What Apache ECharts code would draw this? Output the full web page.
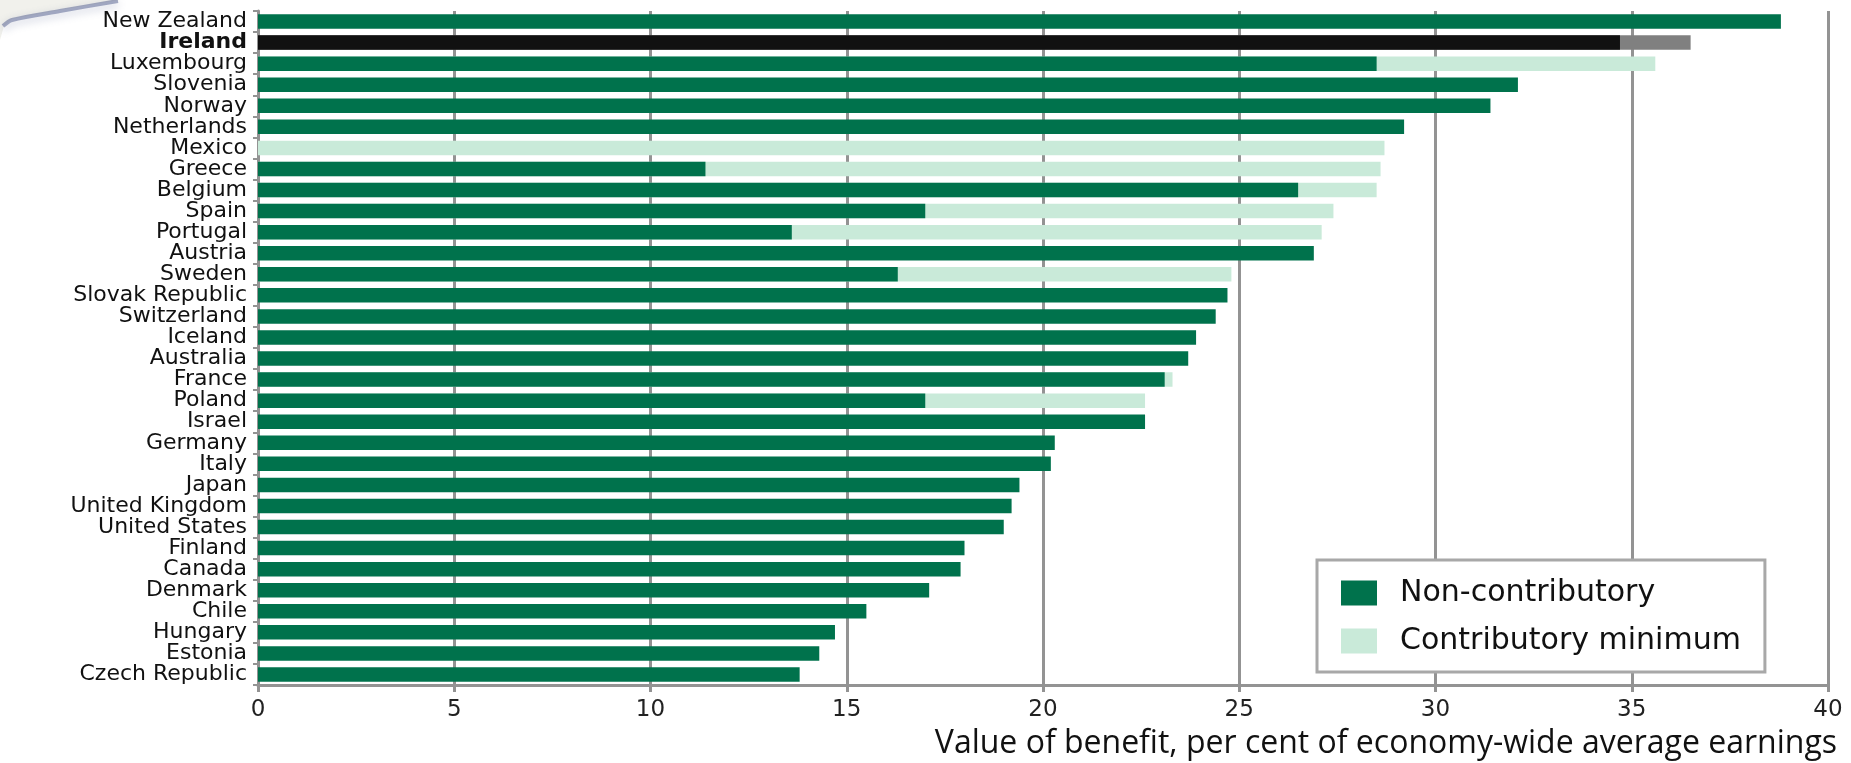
<!DOCTYPE html>
<html>
<head>
<meta charset="utf-8">
<script src="https://cdn.jsdelivr.net/npm/echarts@6/dist/echarts.min.js"></script>
<style>
html,body{margin:0;padding:0;background:#fff;}
#chart{width:1851px;height:763px;}
</style>
</head>
<body>
<div id="chart"></div>
<script>
const categories = ["New Zealand","Ireland","Luxembourg","Slovenia","Norway","Netherlands","Mexico","Greece","Belgium","Spain","Portugal","Austria","Sweden","Slovak Republic","Switzerland","Iceland","Australia","France","Poland","Israel","Germany","Italy","Japan","United Kingdom","United States","Finland","Canada","Denmark","Chile","Hungary","Estonia","Czech Republic"];
const nonContributory = [38.8,34.7,28.5,32.1,31.4,29.2,null,11.4,26.5,17.0,13.6,26.9,16.3,24.7,24.4,23.9,23.7,23.1,17.0,22.6,20.3,20.2,19.4,19.2,19.0,18.0,17.9,17.1,15.5,14.7,14.3,13.8];
const contributoryMinimum = [null,36.5,35.6,null,null,null,28.7,28.6,28.5,27.4,27.1,null,24.8,null,null,null,null,23.3,22.6,null,null,null,null,null,null,null,null,null,null,null,null,null];
const xTicks = {min:0,max:40,interval:5};
const highlight = "Ireland";

const DARK = '#00724C', LIGHT = '#C9EAD9', HL_DARK = '#111111', HL_LIGHT = '#808080';
const GRID = '#939393';

const chart = echarts.init(document.getElementById('chart'), null, {renderer:'canvas'});
const option = {
  backgroundColor:'#ffffff',
  animation:false,
  graphic:[
    {type:'polygon', z:-1, silent:true,
     shape:{points:[[0,0],[120,0],[60,10],[12,19],[4,26],[0,40]]},
     style:{fill:'#f1f1ec'}},
    {type:'polyline', z:-1, silent:true,
     shape:{points:[[118,1],[60,11],[12,20],[3,26]], smooth:0.3},
     style:{stroke:'rgba(95,105,150,0.55)', lineWidth:4, fill:null, shadowBlur:8, shadowColor:'rgba(95,105,150,0.6)', shadowOffsetY:3}}
  ],
  title:{
    text:'Value of benefit, per cent of economy-wide average earnings',
    right:9, top:723,
    textStyle:{fontFamily:'Open Sans', fontSize:32, fontWeight:'normal', color:'#111'}
  },
  legend:{
    orient:'vertical',
    left:1317, top:560,
    padding:[18,24,16,24],
    borderColor:'#a8a8a8', borderWidth:3,
    backgroundColor:'#fff',
    itemWidth:36, itemHeight:25, itemGap:18,
    textStyle:{fontFamily:'DejaVu Sans', fontSize:30, color:'#111', padding:[0,0,0,18]},
    data:[
      {name:'Non-contributory', icon:'rect', itemStyle:{color:DARK}},
      {name:'Contributory minimum', icon:'rect', itemStyle:{color:LIGHT}}
    ]
  },
  grid:{left:258, right:23, top:11, bottom:78, containLabel:false},
  xAxis:{
    type:'value', min:xTicks.min, max:xTicks.max, interval:xTicks.interval,
    axisLine:{show:true, lineStyle:{color:GRID, width:3}},
    axisTick:{show:true, length:7, lineStyle:{color:GRID, width:3}},
    splitLine:{show:true, lineStyle:{color:GRID, width:3}},
    axisLabel:{fontFamily:'DejaVu Sans', fontSize:23, color:'#222', margin:14}
  },
  yAxis:{
    type:'category', data:categories, inverse:true,
    axisLine:{show:true, lineStyle:{color:GRID, width:3}},
    axisTick:{show:true, length:5, lineStyle:{color:GRID, width:2}},
    axisLabel:{
      interval:0,
      fontFamily:'DejaVu Sans', fontSize:22, color:'#111', margin:11, lineHeight:21,
      formatter:function(v){ return v===highlight ? '{b|'+v+'}' : v; },
      rich:{b:{fontFamily:'DejaVu Sans', fontSize:22, fontWeight:'bold', color:'#111', lineHeight:21}}
    }
  },
  series:[
    {
      name:'Contributory minimum', type:'bar', barWidth:14.5, barGap:'-100%',
      itemStyle:{color:LIGHT},
      data:contributoryMinimum.map((v,i)=> categories[i]===highlight ? {value:v, itemStyle:{color:HL_LIGHT}} : v),
      z:2
    },
    {
      name:'Non-contributory', type:'bar', barWidth:14.5, barGap:'-100%',
      itemStyle:{color:DARK},
      data:nonContributory.map((v,i)=> categories[i]===highlight ? {value:v, itemStyle:{color:HL_DARK}} : v),
      z:3
    }
  ]
};
chart.setOption(option);
</script>
</body>
</html>
